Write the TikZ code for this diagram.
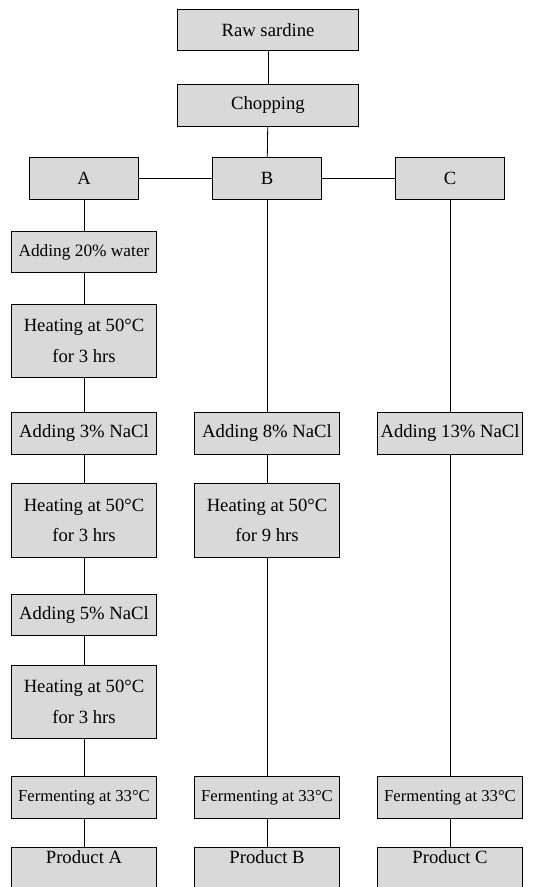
\documentclass[tikz,border=0pt]{standalone}
\usepackage{fontspec}
\setmainfont{Liberation Serif}

\begin{document}
\begin{tikzpicture}[x=0.75pt, y=-0.75pt,
    box/.style={draw, line width=0.7pt, fill=gray!30, inner sep=0pt, minimum height=31pt, align=center, font=\fontsize{14}{23}\selectfont},
    wide/.style={box, minimum width=136pt},
    head/.style={box, minimum width=82pt},
    stage/.style={box, minimum width=109pt},
    tall/.style={stage, minimum height=55pt},
    ferm/.style={stage, font=\fontsize{12.5}{15}\selectfont},
    prod/.style={stage, text depth=17pt},
    link/.style={line width=0.6pt}]
    \useasboundingbox (0,0) rectangle (544,887);

    \node[wide] (raw) at (268,30) {Raw sardine};
    \node[wide] (chop) at (268,105.5) {Chopping};
    \node[head] (A) at (84,178.5) {A}; \node[head] (B) at (267,178.5) {B}; \node[head] (C) at (450,178.5) {C};

    % line A
    \node[stage, font=\fontsize{13}{15}\selectfont] (waterA) at (84,252) {Adding 20\% water};
    \node[tall] (heatA1) at (84,341) {Heating at 50°C\\for 3 hrs};
    \node[stage] (saltA1) at (84,433.5) {Adding 3\% NaCl};
    \node[tall] (heatA2) at (84,520.5) {Heating at 50°C\\for 3 hrs};
    \node[stage] (saltA2) at (84,615) {Adding 5\% NaCl};
    \node[tall] (heatA3) at (84,702) {Heating at 50°C\\for 3 hrs};
    \node[ferm] (fermA) at (84,797.5) {Fermenting at 33°C};
    \node[prod] (prodA) at (84,868.5) {Product A};

    % line B
    \node[stage] (saltB) at (267,433.5) {Adding 8\% NaCl};
    \node[tall] (heatB) at (267,520.5) {Heating at 50°C\\for 9 hrs};
    \node[ferm] (fermB) at (267,797.5) {Fermenting at 33°C};
    \node[prod] (prodB) at (267,868.5) {Product B};

    % line C
    \node[stage] (saltC) at (450,433.5) {Adding 13\% NaCl};
    \node[ferm] (fermC) at (450,797.5) {Fermenting at 33°C};
    \node[prod] (prodC) at (450,868.5) {Product C};

    \draw[link] (raw) -- (chop); \draw[link] (chop) -- (B);
    \draw[link] (A) -- (B); \draw[link] (B) -- (C);
    \foreach \u/\v in {A/waterA, waterA/heatA1, heatA1/saltA1, saltA1/heatA2, heatA2/saltA2, saltA2/heatA3, heatA3/fermA, fermA/prodA,
        B/saltB, saltB/heatB, heatB/fermB, fermB/prodB, C/saltC, saltC/fermC, fermC/prodC}
        \draw[link] (\u) -- (\v);
\end{tikzpicture}
\end{document}
